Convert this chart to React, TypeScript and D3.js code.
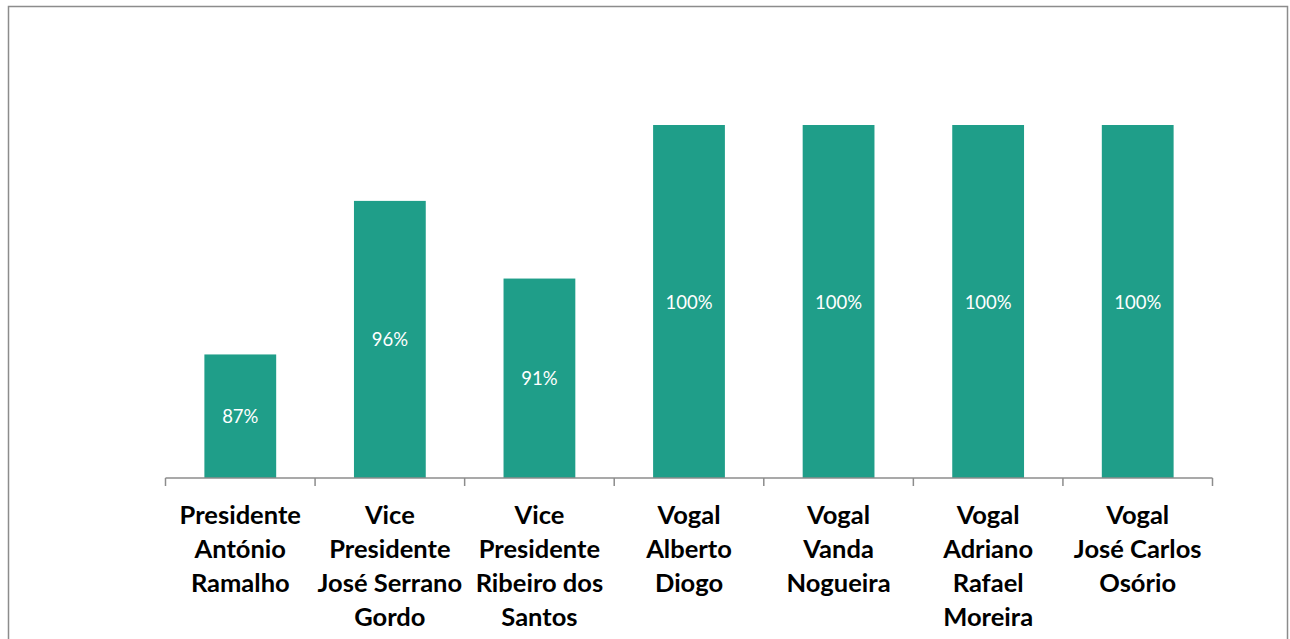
import React, { useEffect, useRef } from 'react';
import * as d3 from 'd3';

const categories = [
  ['Presidente', 'António', 'Ramalho'],
  ['Vice', 'Presidente', 'José Serrano', 'Gordo'],
  ['Vice', 'Presidente', 'Ribeiro dos', 'Santos'],
  ['Vogal', 'Alberto', 'Diogo'],
  ['Vogal', 'Vanda', 'Nogueira'],
  ['Vogal', 'Adriano', 'Rafael', 'Moreira'],
  ['Vogal', 'José Carlos', 'Osório'],
];
const values = [87, 95.7, 91.3, 100, 100, 100, 100];
const valueLabels = ['87%', '96%', '91%', '100%', '100%', '100%', '100%'];

export default function App() {
  const ref = useRef<SVGSVGElement>(null);

  useEffect(() => {
    const svg = d3.select(ref.current);
    svg.selectAll('*').remove();

    // chart frame
    svg
      .append('rect')
      .attr('x', 8.5)
      .attr('y', 6.5)
      .attr('width', 1279)
      .attr('height', 640)
      .attr('fill', '#fff')
      .attr('stroke', '#8c8c8c')
      .attr('stroke-width', 1.5);

    const ids = categories.map((_, i) => String(i));
    const x = d3.scaleBand().domain(ids).range([165.5, 1212.5]).paddingInner(0.52).paddingOuter(0.26);
    const y = d3.scaleLinear().domain([80, 100]).range([478, 125]);

    svg
      .append('g')
      .selectAll('rect')
      .data(values)
      .join('rect')
      .attr('x', (_, i) => x(String(i))!)
      .attr('y', (d) => y(d))
      .attr('width', x.bandwidth())
      .attr('height', (d) => y(80) - y(d))
      .attr('fill', '#1f9e89');

    svg
      .append('g')
      .selectAll('text')
      .data(values)
      .join('text')
      .attr('x', (_, i) => x(String(i))! + x.bandwidth() / 2)
      .attr('y', (d) => (y(d) + y(80)) / 2)
      .attr('text-anchor', 'middle')
      .attr('dominant-baseline', 'central')
      .attr('fill', '#fff')
      .style('font-family', 'Lato, "Open Sans", sans-serif')
      .style('font-size', '18.5px')
      .text((_, i) => valueLabels[i]);

    // axis line and category separators
    const step = x.step();
    const left = 165.5;
    const axis = svg.append('g').attr('stroke', '#8c8c8c').attr('stroke-width', 1.5);
    axis.append('line').attr('x1', left).attr('x2', 1212.5).attr('y1', y(80)).attr('y2', y(80));
    d3.range(categories.length + 1).forEach((k) => {
      const tx = left + k * step;
      axis.append('line').attr('x1', tx).attr('x2', tx).attr('y1', y(80)).attr('y2', y(80) + 8);
    });

    const labels = svg
      .append('g')
      .selectAll('text')
      .data(categories)
      .join('text')
      .attr('text-anchor', 'middle')
      .attr('fill', '#000')
      .style('font-family', 'Lato, "Open Sans", sans-serif')
      .style('font-weight', 'bold')
      .style('font-size', '25.5px');
    labels
      .selectAll('tspan')
      .data((d, i) => d.map((line) => ({ line, i })))
      .join('tspan')
      .attr('x', (d) => x(String(d.i))! + x.bandwidth() / 2)
      .attr('y', (_, j) => 524 + j * 34)
      .text((d) => d.line);
  }, []);

  return <svg ref={ref} width={1290} height={639} style={{ display: 'block', position: 'absolute', left: 0, top: 0 }} />;
}
